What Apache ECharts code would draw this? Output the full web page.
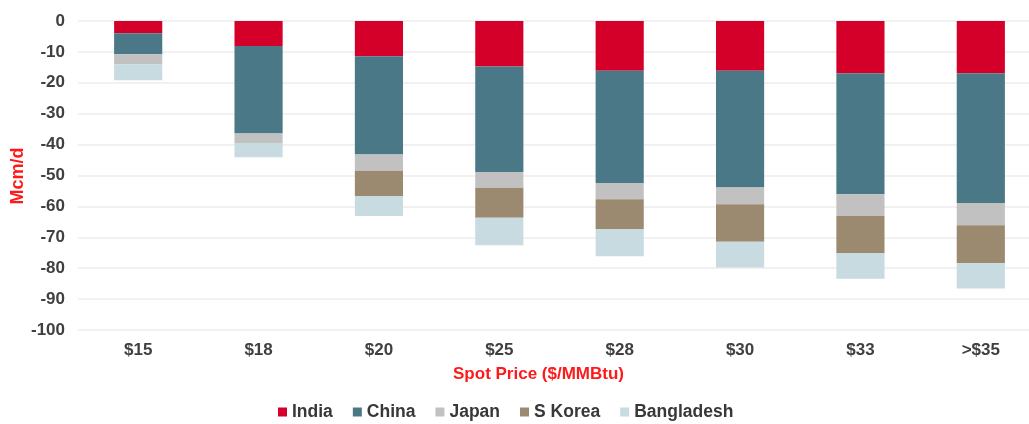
<!DOCTYPE html>
<html>
<head>
<meta charset="utf-8">
<script src="https://cdn.jsdelivr.net/npm/echarts@6/dist/echarts.min.js"></script>
<style>
    html, body { margin: 0; padding: 0; background: #fff; }
    #main { width: 1029px; height: 424px; }
</style>
</head>
<body>
<div id="main"></div>
<script>
//类别
var categories = ['$15', '$18', '$20', '$25', '$28', '$30', '$33', '>$35'];
//各国 (Mcm/d)
var india = [-4.0, -8.1, -11.4, -14.7, -16.1, -16.1, -16.9, -16.9];
var china = [-6.8, -28.3, -31.8, -34.2, -36.3, -37.8, -39.2, -42.0];
var japan = [-3.2, -3.1, -5.3, -5.1, -5.3, -5.4, -6.9, -7.2];
var skorea = [0, 0, -8.1, -9.7, -9.6, -12.1, -12.1, -12.3];
var bangladesh = [-5.2, -4.6, -6.5, -8.9, -8.8, -8.4, -8.3, -8.2];

var myChart;

function makeSeries(name, data, color) {
    return {
        name: name,
        type: 'bar',
        stack: 'total',
        barWidth: '40%',
        data: data,
        itemStyle: { color: color }
    };
}

function DrawChart() {
    myChart = echarts.init(document.getElementById('main'));
    var font = 'Arial, "Liberation Sans", sans-serif';
    var labelFont = { fontFamily: font, fontWeight: 'bold', fontSize: 17, color: '#404040' };
    var option = {
        animation: false,
        grid: { left: 78, top: 21, width: 963, height: 309, containLabel: false, outerBoundsMode: 'none' },
        legend: {
            left: 273,
            top: 398,
            itemWidth: 9,
            itemHeight: 9,
            itemGap: 20,
            icon: 'rect',
            textStyle: { fontFamily: font, fontWeight: 'bold', fontSize: 17.5, color: '#383838' },
            data: ['India', 'China', 'Japan', 'S Korea', 'Bangladesh']
        },
        // y轴名称
        graphic: [{
            type: 'text',
            x: 18,
            y: 176,
            rotation: Math.PI / 2,
            style: {
                text: 'Mcm/d',
                fontFamily: font,
                fontWeight: 'bold',
                fontSize: 18,
                fill: '#ff1a1a',
                align: 'center',
                verticalAlign: 'middle'
            }
        }],
        xAxis: {
            type: 'category',
            data: categories,
            position: 'bottom',
            axisLine: { show: false },
            axisTick: { show: false },
            axisLabel: Object.assign({ margin: 12 }, labelFont),
            name: 'Spot Price ($/MMBtu)',
            nameLocation: 'middle',
            nameGap: 36,
            nameTextStyle: {
                fontFamily: font,
                fontWeight: 'bold',
                fontSize: 17,
                color: '#ff1a1a',
                padding: [0, 42, 0, 0]
            }
        },
        yAxis: {
            type: 'value',
            min: -100,
            max: 0,
            interval: 10,
            axisLine: { show: false },
            axisTick: { show: false },
            axisLabel: Object.assign({ margin: 13 }, labelFont),
            splitLine: { lineStyle: { color: '#ececec', width: 1.5 } }
        },
        series: [
            makeSeries('India', india, '#d5002a'),
            makeSeries('China', china, '#4a7886'),
            makeSeries('Japan', japan, '#c1c1c1'),
            makeSeries('S Korea', skorea, '#9c8a70'),
            makeSeries('Bangladesh', bangladesh, '#c7dbe1')
        ]
    };
    myChart.setOption(option);
}

DrawChart();
</script>
</body>
</html>
